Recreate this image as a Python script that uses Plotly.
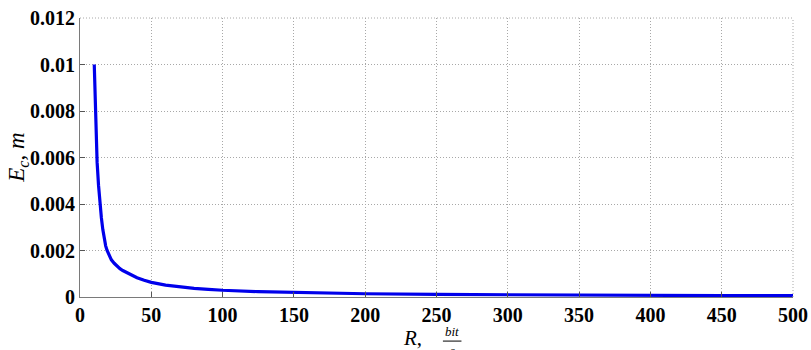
import plotly.graph_objects as go

# Data
R_values = [10, 10.5, 11, 11.5, 12, 13, 14, 15, 16, 17, 18, 19, 20, 22, 24, 26, 28, 30,
            35, 40, 45, 50, 60, 70, 80, 90, 100, 125, 150, 175, 200, 250, 300, 350,
            400, 450, 500]
Ec_values = [0.0100, 0.0086, 0.0075, 0.0066, 0.0058, 0.0048, 0.0040, 0.0034, 0.0029,
             0.0025, 0.0022, 0.0020, 0.00185, 0.0016, 0.00145, 0.00132, 0.00122, 0.00114,
             0.00097, 0.00083, 0.00072, 0.00063, 0.00051, 0.00043, 0.00037, 0.00033,
             0.00029, 0.00023, 0.00019, 0.000165, 0.00014, 0.00011, 0.00009, 0.00008,
             0.00007, 0.00006, 0.000055]

x_ticks = [0, 50, 100, 150, 200, 250, 300, 350, 400, 450, 500]
y_ticks = [0, 0.002, 0.004, 0.006, 0.008, 0.01, 0.012]
y_tick_labels = ["0", "0.002", "0.004", "0.006", "0.008", "0.01", "0.012"]

tick_font = dict(family="Liberation Serif", size=20, color="black")
grid_color = "#a8a8a8"
grid_dash = "1px,2px"

fig = go.Figure()
fig.add_trace(go.Scatter(x=R_values, y=Ec_values, mode="lines",
                         line=dict(color="rgb(0,0,235)", width=3.2),
                         showlegend=False, hoverinfo="x+y"))

fig.update_layout(
    width=811, height=350,
    margin=dict(l=80, r=18, t=18, b=53),
    paper_bgcolor="white", plot_bgcolor="white",
    font=dict(family="Liberation Serif"),
)
fig.update_xaxes(
    range=[0, 500], tickvals=x_ticks, ticktext=[f"<b>{v}</b>" for v in x_ticks],
    tickfont=tick_font, showline=True, linecolor="#7a7a7a", linewidth=1,
    ticks="inside", ticklen=5, tickcolor="#555555",
    showgrid=True, gridcolor=grid_color, griddash=grid_dash, gridwidth=1,
    zeroline=False, fixedrange=True, automargin=False, ticklabeloverflow="allow",
)
fig.update_yaxes(
    range=[0, 0.012], tickvals=y_ticks, ticktext=[f"<b>{t}</b>" for t in y_tick_labels],
    tickfont=tick_font, showline=True, linecolor="#7a7a7a", linewidth=1,
    ticks="inside", ticklen=5, tickcolor="#555555",
    showgrid=True, gridcolor=grid_color, griddash=grid_dash, gridwidth=1,
    zeroline=False, fixedrange=True, automargin=False, ticklabeloverflow="allow",
)

# dotted top and right borders
fig.add_shape(type="line", xref="paper", yref="paper", x0=0, x1=1, y0=1, y1=1,
              line=dict(color=grid_color, width=1, dash=grid_dash))
fig.add_shape(type="line", xref="paper", yref="paper", x0=1, x1=1, y0=0, y1=1,
              line=dict(color=grid_color, width=1, dash=grid_dash))

# axis titles
fig.add_annotation(text="<i>E</i><sub><i>c</i></sub>, <i>m</i>", xref="paper", yref="paper",
                   x=-0.088, y=0.5, textangle=-90, showarrow=False,
                   font=dict(family="Liberation Serif", size=23, color="black"),
                   xanchor="center", yanchor="middle")
fig.add_annotation(text="<i>R</i>,", xref="paper", yref="paper",
                   x=0.466, y=-0.147, showarrow=False, xanchor="center", yanchor="middle",
                   font=dict(family="Liberation Serif", size=21, color="black"))
fig.add_annotation(text="<i>bit</i>", xref="paper", yref="paper",
                   x=0.522, y=-0.122, showarrow=False, xanchor="center", yanchor="middle",
                   font=dict(family="Liberation Serif", size=13, color="black"))
fig.add_shape(type="line", xref="paper", yref="paper", x0=0.509, x1=0.535,
              y0=-0.158, y1=-0.158, line=dict(color="black", width=1))
fig.add_annotation(text="<i>s</i>", xref="paper", yref="paper",
                   x=0.522, y=-0.19, showarrow=False, xanchor="center", yanchor="middle",
                   font=dict(family="Liberation Serif", size=13, color="black"))

# remove the default 8px page margin so the figure fills the window exactly
fig.write_html("out.html", config={"displayModeBar": False},
               post_script="document.body.style.margin='0';")
